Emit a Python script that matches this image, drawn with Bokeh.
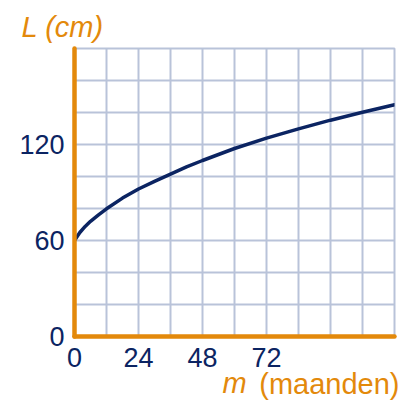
from bokeh.plotting import figure
from bokeh.models import FixedTicker, Range1d, Title
from bokeh.embed import file_html
from bokeh.resources import INLINE

# data
months = [0, 2, 4, 6, 9, 12, 18, 24, 30, 36, 42, 48, 60, 72, 84, 96, 108, 120]
length_cm = [60, 65, 68.8, 72, 76, 79.8, 86.5, 92.2, 97, 101.5, 106, 110, 117.5, 124, 129.8, 135.2, 140.2, 144.8]
x_tick_labels = [0, 24, 48, 72]
y_tick_labels = [0, 60, 120]
x_grid = list(range(0, 121, 12))
y_grid = list(range(0, 181, 20))

ORANGE = "#E3890B"
NAVY = "#0B2462"
GRID = "#B9C3D9"
FONT = "Liberation Sans"
FS = "27px"
FS_TITLE = "29px"

W, H = 405, 401
p = figure(width=W, height=H, output_backend="svg", toolbar_location=None,
           x_range=Range1d(0, 120), y_range=Range1d(0, 180),
           min_border_left=74, min_border_right=11, min_border_top=48, min_border_bottom=59)
p.background_fill_color = "white"
p.border_fill_color = "white"
p.outline_line_color = GRID
p.outline_line_width = 2

p.xgrid.ticker = FixedTicker(ticks=x_grid)
p.ygrid.ticker = FixedTicker(ticks=y_grid)
for g in (p.xgrid, p.ygrid):
    g.grid_line_color = GRID
    g.grid_line_width = 2
    g.grid_line_alpha = 1

p.xaxis.ticker = FixedTicker(ticks=x_tick_labels)
p.yaxis.ticker = FixedTicker(ticks=y_tick_labels)
for ax in (p.xaxis, p.yaxis):
    ax.axis_line_color = ORANGE
    ax.axis_line_width = 4.5
    ax.axis_line_cap = "round"
    ax.major_tick_line_color = None
    ax.minor_tick_line_color = None
    ax.major_tick_out = 0
    ax.major_tick_in = 0
    ax.minor_tick_out = 0
    ax.minor_tick_in = 0
    ax.major_label_text_font = FONT
    ax.major_label_text_font_size = FS
    ax.major_label_text_color = NAVY
p.xaxis.major_label_standoff = 11
p.yaxis.major_label_standoff = 10

# x axis title: italic "m" as axis label, "(maanden)" as a title pulled up onto the same row
p.xaxis.axis_label = "m"
p.xaxis.axis_label_text_font = FONT
p.xaxis.axis_label_text_font_size = FS_TITLE
p.xaxis.axis_label_text_font_style = "italic"
p.xaxis.axis_label_text_color = ORANGE
p.xaxis.axis_label_standoff = -3

p.line(months, length_cm, line_color=NAVY, line_width=3.5, line_cap="round")

p.add_layout(Title(text="L (cm)", align="left", offset=-53, vertical_align="bottom", standoff=12,
                   text_font=FONT, text_font_size=FS_TITLE, text_font_style="italic",
                   text_color=ORANGE), "above")
p.add_layout(Title(text="(maanden)", align="right", offset=-5, vertical_align="top", standoff=-67,
                   text_font=FONT, text_font_size=FS_TITLE, text_font_style="normal",
                   text_color=ORANGE), "below")

open("out.html", "w").write(file_html(p, INLINE))
